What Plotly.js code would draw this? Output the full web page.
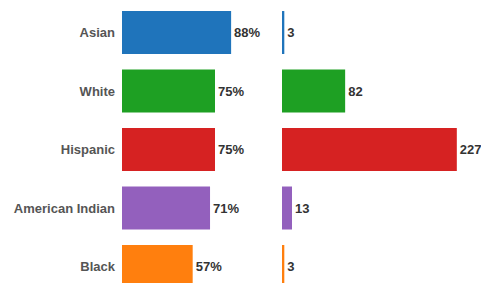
<!DOCTYPE html>
<html>
<head>
<meta charset="utf-8">
<script src="https://cdn.plot.ly/plotly-3.0.1.min.js"></script>
<style>html,body{margin:0;padding:0;background:#fff;}#chart{width:481px;height:283px;}</style>
</head>
<body>
<div id="chart"></div>
<script>
var categories = ['Asian', 'White', 'Hispanic', 'American Indian', 'Black'];
var percentValues = [88, 75, 75, 71, 57];
var countValues = [3, 82, 227, 13, 3];
var barColors = ['#1f74bb', '#1ea023', '#d62222', '#9360bd', '#ff7f0e'];

var pctLabels = percentValues.map(function (v) { return v + '%'; });
var countLabels = countValues.map(function (v) { return String(v); });

var fontFam = 'Liberation Sans, Arial, sans-serif';

var traces = [
  {
    type: 'bar', orientation: 'h',
    y: categories, x: percentValues,
    xaxis: 'x', yaxis: 'y',
    marker: {color: barColors},
    width: 0.735,
    text: pctLabels, textposition: 'outside', cliponaxis: false,
    textfont: {family: fontFam, size: 13, color: '#333', weight: 'bold'},
    hoverinfo: 'none'
  },
  {
    type: 'bar', orientation: 'h',
    y: categories, x: countValues,
    xaxis: 'x2', yaxis: 'y',
    marker: {color: barColors},
    width: 0.735,
    text: countLabels, textposition: 'outside', cliponaxis: false,
    textfont: {family: fontFam, size: 13, color: '#333', weight: 'bold'},
    hoverinfo: 'none'
  }
];

var layout = {
  width: 481, height: 283,
  margin: {l: 0, r: 0, t: 0, b: 0, pad: 0},
  paper_bgcolor: '#fff', plot_bgcolor: '#fff',
  showlegend: false,
  xaxis: {domain: [122 / 481, 246 / 481], range: [0, 100], visible: false, fixedrange: true},
  xaxis2: {domain: [282 / 481, 1], range: [0, 258.4], visible: false, fixedrange: true},
  yaxis: {
    type: 'category', categoryarray: categories, categoryorder: 'array',
    range: [4.282, -0.556], autorange: false,
    showgrid: false, zeroline: false, showline: false,
    ticks: '', ticklabelstandoff: 6,
    tickfont: {family: fontFam, size: 13, color: '#555', weight: 'bold'},
    fixedrange: true
  }
};

Plotly.newPlot('chart', traces, layout, {displayModeBar: false, staticPlot: true});
</script>
</body>
</html>
